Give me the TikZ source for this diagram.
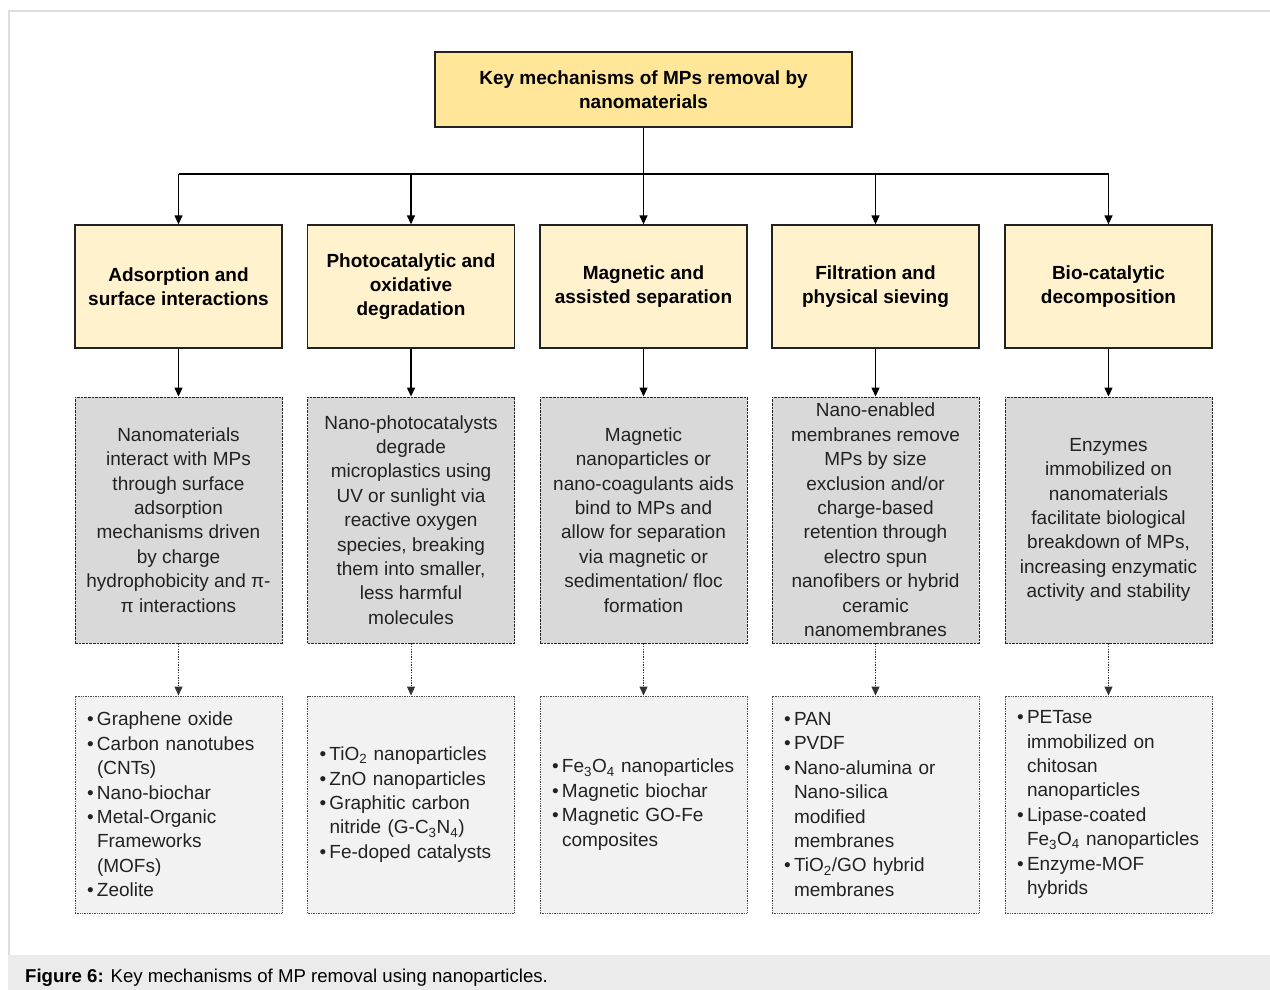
\documentclass[tikz,border=0pt]{standalone}
\usepackage{fontspec}
\setmainfont{Liberation Sans}
\usetikzlibrary{arrows.meta}

\definecolor{titlefill}{HTML}{FFE699}
\definecolor{headfill}{HTML}{FFF2CC}
\definecolor{grayfill}{HTML}{D9D9D9}
\definecolor{listfill}{HTML}{F2F2F2}
\definecolor{capfill}{HTML}{EBEBEB}
\definecolor{framecol}{HTML}{DDDDDD}
\definecolor{inkcol}{HTML}{222222}

% bullet line and continuation line of a list
\newcommand{\bul}[1]{\mbox{\makebox[10pt][l]{\textbullet}#1}}
\newcommand{\cnt}[1]{\mbox{\hspace*{10pt}#1}}

\tikzset{
  boldtxt/.style={font=\bfseries\fontsize{19}{24.2}\selectfont},
  plaintxt/.style={font=\fontsize{19}{24.4}\selectfont},
  titlebox/.style={boldtxt, draw=inkcol, line width=1.4pt, fill=titlefill,
    minimum width=417pt, minimum height=75pt, inner sep=0pt, align=center, text=black},
  headbox/.style={boldtxt, draw=inkcol, line width=1.3pt, fill=headfill,
    minimum width=207pt, minimum height=123pt, inner sep=0pt, align=center, text=black},
  mechbox/.style={plaintxt, draw=black!85, line width=0.9pt, dash pattern=on 2.6pt off 1pt,
    fill=grayfill, minimum width=207pt, minimum height=246pt, inner sep=0pt,
    align=center, text=inkcol},
  listbox/.style={plaintxt, draw=black!70, line width=0.9pt, dash pattern=on 1pt off 0.7pt,
    fill=listfill, text width=183pt, inner xsep=12pt, inner ysep=0pt,
    minimum height=217pt, align=left, text=inkcol},
  solidarr/.style={draw=black, line width=1.3pt, -{Triangle[width=8pt,length=9pt]}},
  dotarr/.style={draw=black!80, line width=1pt, dash pattern=on 1.3pt off 1.3pt,
    -{Triangle[width=8pt,length=9pt]}},
  busline/.style={draw=black, line width=1.3pt},
}

\begin{document}
\begin{tikzpicture}[x=1pt,y=-1pt]
\useasboundingbox (0,0) rectangle (1270,990);
\fill[white] (0,0) rectangle (1270,990);

% page frame and caption band
\draw[framecol, line width=1.2pt] (9,956) -- (9,11) -- (1272,11);
\fill[capfill] (8,955) rectangle (1270,990);
\node[anchor=west, font=\fontsize{18.6}{22}\selectfont, inner sep=0pt] (caption) at (25,978)
  {\textbf{Figure 6:} Key mechanisms of MP removal using nanoparticles.};

% title
\node[titlebox] (title) at (643.5,89.5) {Key mechanisms of MPs removal by\\nanomaterials};

% mechanism headers
\node[headbox] (h1) at (178.5,286.5) {Adsorption and\\surface interactions};
\node[headbox] (h2) at (411,286.5) {Photocatalytic and\\oxidative\\degradation};
\node[headbox] (h3) at (643.5,286.5) {Magnetic and\\assisted separation};
\node[headbox] (h4) at (875.5,286.5) {Filtration and\\physical sieving};
\node[headbox] (h5) at (1108.5,286.5) {Bio-catalytic\\decomposition};

% descriptions
\node[mechbox] (g1) at (178.5,520) {Nanomaterials\\interact with MPs\\through surface\\adsorption\\mechanisms driven\\by charge\\hydrophobicity and π-\\π interactions};
\node[mechbox] (g2) at (411,520) {Nano-photocatalysts\\degrade\\microplastics using\\UV or sunlight via\\reactive oxygen\\species, breaking\\them into smaller,\\less harmful\\molecules};
\node[mechbox] (g3) at (643.5,520) {Magnetic\\nanoparticles or\\nano-coagulants aids\\bind to MPs and\\allow for separation\\via magnetic or\\sedimentation/ floc\\formation};
\node[mechbox] (g4) at (875.5,520) {Nano-enabled\\membranes remove\\MPs by size\\exclusion and/or\\charge-based\\retention through\\electro spun\\nanofibers or hybrid\\ceramic\\nanomembranes};
\node[mechbox] (g5) at (1108.5,520) {Enzymes\\immobilized on\\nanomaterials\\facilitate biological\\breakdown of MPs,\\increasing enzymatic\\activity and stability};

% example materials
\node[listbox] (b1) at (178.5,804.5) {\bul{Graphene oxide}\\\bul{Carbon nanotubes}\\\cnt{(CNTs)}\\\bul{Nano-biochar}\\\bul{Metal-Organic}\\\cnt{Frameworks}\\\cnt{(MOFs)}\\\bul{Zeolite}};
\node[listbox] (b2) at (411,804.5) {\bul{TiO\textsubscript{2} nanoparticles}\\\bul{ZnO nanoparticles}\\\bul{Graphitic carbon}\\\cnt{nitride (G-C\textsubscript{3}N\textsubscript{4})}\\\bul{Fe-doped catalysts}};
\node[listbox] (b3) at (643.5,804.5) {\bul{Fe\textsubscript{3}O\textsubscript{4} nanoparticles}\\\bul{Magnetic biochar}\\\bul{Magnetic GO-Fe}\\\cnt{composites}};
\node[listbox] (b4) at (875.5,804.5) {\bul{PAN}\\\bul{PVDF}\\\bul{Nano-alumina or}\\\cnt{Nano-silica}\\\cnt{modified}\\\cnt{membranes}\\\bul{TiO\textsubscript{2}/GO hybrid}\\\cnt{membranes}};
\node[listbox] (b5) at (1108.5,804.5) {\bul{PETase}\\\cnt{immobilized on}\\\cnt{chitosan}\\\cnt{nanoparticles}\\\bul{Lipase-coated}\\\cnt{Fe\textsubscript{3}O\textsubscript{4} nanoparticles}\\\bul{Enzyme-MOF}\\\cnt{hybrids}};

% distribution bus from the title
\coordinate (busy) at (0,174);
\draw[busline] (title.south) -- (title.south |- busy);
\draw[busline] (h1.north |- busy) -- (h5.north |- busy);
\foreach \i in {1,...,5} {
  \draw[solidarr] (h\i.north |- busy) -- (h\i.north);
  \draw[solidarr] (h\i.south) -- (g\i.north);
  \draw[dotarr] (g\i.south) -- (b\i.north);
}
\end{tikzpicture}
\end{document}
